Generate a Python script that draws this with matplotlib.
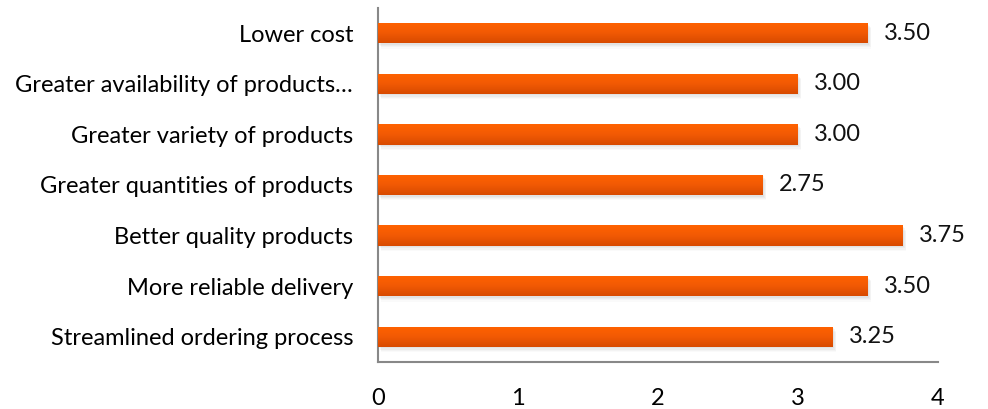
import matplotlib.pyplot as plt
import numpy as np
from matplotlib.colors import LinearSegmentedColormap

plt.rcParams['font.family'] = ['Lato', 'DejaVu Sans']

categories = ["Streamlined ordering process", "More reliable delivery", "Better quality products",
              "Greater quantities of products", "Greater variety of products",
              "Greater availability of products\u2026", "Lower cost"]
values = [3.25, 3.50, 3.75, 2.75, 3.00, 3.00, 3.50]
xticks = [0, 1, 2, 3, 4]

fig = plt.figure(figsize=(9.88, 4.09), dpi=100)
ax = fig.add_axes([378/988, 1-362/409, 560/988, 354/409])

ypos = np.arange(len(categories))
h = 0.4

# soft shadow under the bars
for k, a in enumerate([0.08, 0.07, 0.05, 0.035]):
    off = 0.03 + k * 0.025
    ax.barh(ypos - off, values, height=h, left=0.01 + k * 0.004, color="#808080", alpha=a, zorder=1)

bars = ax.barh(ypos, values, height=h, color="#f05a08", zorder=2)
cmap = LinearSegmentedColormap.from_list("org", ["#ff6200", "#f25a04", "#d84a00"])
grad = np.linspace(0, 1, 64).reshape(-1, 1)
for b in bars:
    x0, y0 = b.get_x(), b.get_y()
    im = ax.imshow(grad, cmap=cmap, aspect="auto", zorder=3,
                   extent=[x0, x0 + b.get_width(), y0, y0 + b.get_height()], origin="upper")
    im.set_clip_path(b)

for y, v in zip(ypos, values):
    ax.text(v + 0.115, y, "%.2f" % v, va="center", ha="left", fontsize=17, color="#111111")

ax.set_xlim(0, 4)
ax.set_ylim(-0.5, len(categories) - 0.5)
ax.set_xticks(xticks)
ax.set_yticks(ypos)
ax.set_yticklabels(categories)
ax.tick_params(axis="y", length=0, pad=18, labelsize=17)
ax.tick_params(axis="x", length=0, pad=19, labelsize=17)
for s in ["top", "right"]:
    ax.spines[s].set_visible(False)
for s in ["left", "bottom"]:
    ax.spines[s].set_color("#888888")
    ax.spines[s].set_linewidth(1.5)

fig.savefig("out.png", dpi=100)
